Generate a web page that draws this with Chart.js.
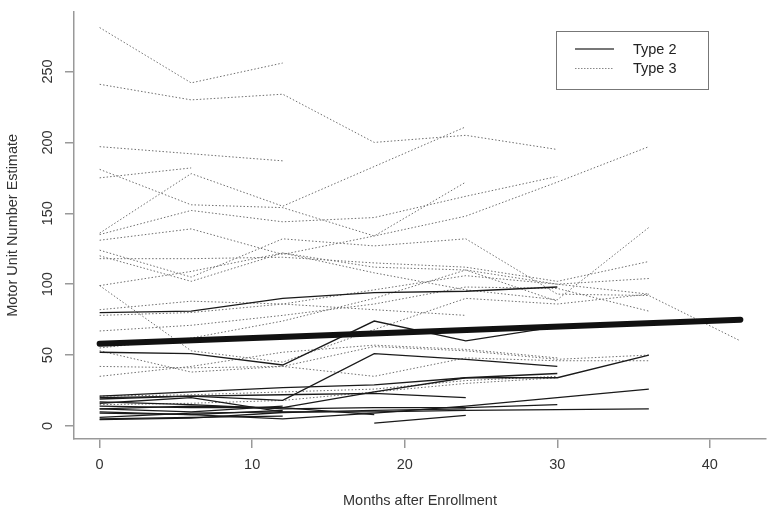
<!DOCTYPE html>
<html>
<head>
<meta charset="utf-8">
<script src="https://cdn.jsdelivr.net/npm/chart.js@4.4.1/dist/chart.umd.min.js"></script>
<style>
html, body { margin: 0; padding: 0; background: #fff; }
#wrap { width: 774px; height: 513px; }
</style>
</head>
<body>
<div id="wrap"><canvas id="mune" width="774" height="513"></canvas></div>
<script>
// visit months, one column per visit
const months = [0, 6, 12, 18, 24, 30, 36, 42];
const xTicks = [0, 10, 20, 30, 40];
const yTicks = [0, 50, 100, 150, 200, 250];

// Type 2 subjects (solid lines), null = no visit
const type2Subjects = [
    [80, 81, 90, 94, 95, 98],
    [52, 51, 43, 74, 60, 70],
    [20, 21, 18, 51, 47, 42],
    [21, 24, 27, 29, 34, 37],
    [12, 14, 13, 24, 34, 34, 50],
    [null, null, null, 2, 7.5],
    [10, 8, 5, 9, 14, 20, 26],
    [6, 9, 10, 10, 11, 11.5, 12],
    [17, 15, 12, 13, 13, 15],
    [19, 21, 22, 23, 20],
    [14, 13, 13, 8],
    [16, 20, 10],
    [9, 8, 11],
    [5, 6, 7],
    [12, 10, 14],
    [4.5, 5.5, 9.5, 11, 12]
];

// Type 3 subjects (dotted lines)
const type3Subjects = [
    [281, 242, 256],
    [241, 230, 234, 200, 205, 195],
    [197, 192, 187],
    [181, 156, 154, 134, 172],
    [175, 182],
    [136, 178, 155, 183, 211],
    [135, 152, 144, 147, 162, 176],
    [131, 139, 121, 134, 148, 172, 197],
    [124, 105, 132, 127, 132, 93, 92, 60],
    [120, 102, 122, 108, 96, 89, 140],
    [118, 118, 119, 115, 112, 102, 116],
    [99, 109, 122, 112, 110, 100, 104],
    [82, 88, 86, 96, 106, 100, 93],
    [78, 80, 86, 82, 78],
    [67, 71, 78, 86, 98, 97, 81],
    [55, 62, 74, 90, 110, 88],
    [53, 38, 42, 56, 53, 47, 50],
    [42, 41, 42, 35, 48, 46, 46],
    [35, 42, 52, 57, 54, 48],
    [21, 22, 24, 26, 32, 35],
    [15, 16, 18, 24, 30, 34],
    [99, 53, 45, 68, 90, 86, 93]
];

// fitted mean line
const fitMonths = [0, 42];
const fitValues = [58, 75];

const FONT = '"Liberation Sans", Arial, Helvetica, sans-serif';

function toPoints(xs, vals) {
    return vals.map((v, i) => ({x: xs[i], y: v})).filter(p => p.y !== null);
}

let datasets = [{
    label: 'fit',
    data: toPoints(fitMonths, fitValues),
    borderColor: '#111',
    borderWidth: 6,
    borderCapStyle: 'round',
    order: 0
}];
type2Subjects.forEach((s, i) => datasets.push({
    label: 'Type 2 #' + (i + 1),
    data: toPoints(months, s),
    borderColor: '#1a1a1a',
    borderWidth: 1.3,
    order: 1
}));
type3Subjects.forEach((s, i) => datasets.push({
    label: 'Type 3 #' + (i + 1),
    data: toPoints(months, s),
    borderColor: '#6e6e6e',
    borderWidth: 1,
    borderDash: [1.5, 2],
    order: 2
}));

// rotated y tick labels, R style
const yLabels = {
    id: 'yLabels',
    afterDraw(chart) {
        const ctx = chart.ctx, y = chart.scales.y;
        ctx.save();
        ctx.font = '14.5px ' + FONT;
        ctx.fillStyle = '#333';
        ctx.textAlign = 'center';
        ctx.textBaseline = 'middle';
        yTicks.forEach(t => {
            ctx.save();
            ctx.translate(48, y.getPixelForValue(t));
            ctx.rotate(-Math.PI / 2);
            ctx.fillText(String(t), 0, 0);
            ctx.restore();
        });
        ctx.restore();
    }
};

// boxed legend in the top right
const boxLegend = {
    id: 'boxLegend',
    afterDraw(chart) {
        const ctx = chart.ctx;
        ctx.save();
        ctx.strokeStyle = '#777';
        ctx.lineWidth = 1;
        ctx.strokeRect(556.5, 31.5, 152, 58);
        ctx.strokeStyle = '#777';
        ctx.lineWidth = 2;
        ctx.beginPath(); ctx.moveTo(575, 49); ctx.lineTo(614, 49); ctx.stroke();
        ctx.strokeStyle = '#888';
        ctx.lineWidth = 1;
        ctx.setLineDash([1.5, 1.5]);
        ctx.beginPath(); ctx.moveTo(575, 68.5); ctx.lineTo(614, 68.5); ctx.stroke();
        ctx.setLineDash([]);
        ctx.font = '14.5px ' + FONT;
        ctx.fillStyle = '#222';
        ctx.textBaseline = 'middle';
        ctx.fillText('Type 2', 633, 49.5);
        ctx.fillText('Type 3', 633, 68.5);
        ctx.restore();
    }
};

new Chart(document.getElementById('mune').getContext('2d'), {
    type: 'line',
    data: {datasets: datasets},
    plugins: [yLabels, boxLegend],
    options: {
        responsive: false,
        animation: false,
        events: [],
        layout: {padding: {top: 7, right: 8, left: 0, bottom: 0}},
        elements: {point: {radius: 0}, line: {tension: 0}},
        plugins: {legend: {display: false}, tooltip: {enabled: false}},
        scales: {
            x: {
                type: 'linear',
                min: -1.68,
                max: 43.68,
                afterBuildTicks: s => { s.ticks = xTicks.map(v => ({value: v})); },
                afterFit: s => { s.height = 74; },
                border: {display: true, color: '#999', width: 1.5},
                grid: {drawOnChartArea: false, drawTicks: true, tickLength: 9, color: '#999', lineWidth: 1.5},
                ticks: {color: '#333', font: {family: FONT, size: 14.5}, padding: 8, maxRotation: 0},
                title: {display: true, text: 'Months after Enrollment', color: '#333',
                        font: {family: FONT, size: 14.5}, padding: {top: 0, bottom: 3}}
            },
            y: {
                type: 'linear',
                min: -9.2,
                max: 292.2,
                afterBuildTicks: s => { s.ticks = yTicks.map(v => ({value: v})); },
                afterFit: s => { s.width = 74; },
                border: {display: true, color: '#999', width: 1.5},
                grid: {drawOnChartArea: false, drawTicks: true, tickLength: 9, color: '#999', lineWidth: 1.5},
                ticks: {callback: () => '', font: {family: FONT, size: 14.5}},
                title: {display: true, text: 'Motor Unit Number Estimate', color: '#333',
                        font: {family: FONT, size: 14.5}, padding: {top: 4, bottom: 0}}
            }
        }
    }
});
</script>
</body>
</html>
